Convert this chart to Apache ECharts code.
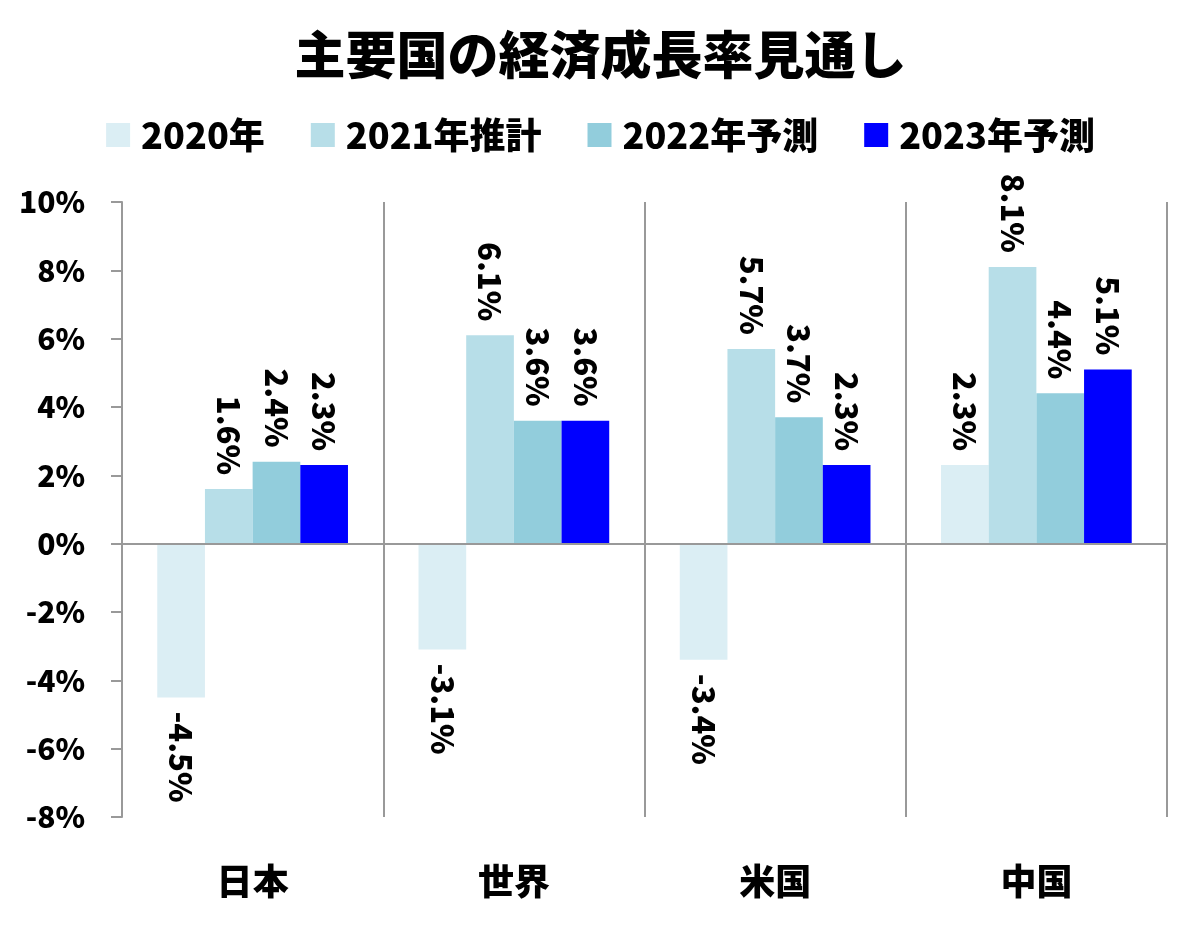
<!DOCTYPE html>
<html>
<head>
<meta charset="utf-8">
<script src="https://cdn.jsdelivr.net/npm/echarts@6/dist/echarts.min.js"></script>
<style>
html,body{margin:0;padding:0;background:#fff;}
#chart{width:1201px;height:928px;}
</style>
</head>
<body>
<div id="chart"></div>
<script>
const titleText = '主要国の経済成長率見通し';
const categories = ['日本', '世界', '米国', '中国'];
const seriesNames = ['2020年', '2021年推計', '2022年予測', '2023年予測'];
const values2020 = [-4.5, -3.1, -3.4, 2.3];
const values2021 = [1.6, 6.1, 5.7, 8.1];
const values2022 = [2.4, 3.6, 3.7, 4.4];
const values2023 = [2.3, 3.6, 2.3, 5.1];
const colors = ['#dbeef4', '#b7dee8', '#92cddc', '#0000ff'];

const FONT = '"Noto Sans CJK JP", "Noto Sans", sans-serif';
const GRAY = '#999999';
const WEIGHT = 900;

function makeData(arr) {
  return arr.map(v => {
    if (v < 0) {
      return { value: v, label: { position: 'bottom', align: 'left' } };
    }
    return { value: v };
  });
}

const allValues = [values2020, values2021, values2022, values2023];

const series = allValues.map((arr, i) => {
  const s = {
    name: seriesNames[i],
    type: 'bar',
    data: makeData(arr),
    barGap: '0%',
    barCategoryGap: '27%',
    itemStyle: { color: colors[i] },
    label: {
      show: true,
      position: 'top',
      rotate: -90,
      align: 'right',
      verticalAlign: 'middle',
      distance: 14,
      fontFamily: FONT,
      fontWeight: WEIGHT,
      fontSize: 31,
      color: '#000',
      formatter: p => p.value.toFixed(1) + '%'
    }
  };
  if (i === 0) {
    s.markLine = {
      silent: true,
      symbol: 'none',
      label: { show: false },
      lineStyle: { color: GRAY, type: 'solid', width: 2 },
      data: [{ yAxis: 0 }]
    };
  }
  return s;
});

const chart = echarts.init(document.getElementById('chart'));
chart.setOption({
  backgroundColor: '#ffffff',
  animation: false,
  title: {
    text: titleText,
    left: 'center',
    top: 24,
    textStyle: { fontFamily: FONT, fontWeight: WEIGHT, fontSize: 51, color: '#000' }
  },
  legend: {
    data: seriesNames,
    left: 'center',
    top: 112,
    itemWidth: 24,
    itemHeight: 24,
    itemGap: 46,
    icon: 'rect',
    textStyle: { fontFamily: FONT, fontWeight: WEIGHT, fontSize: 36, color: '#000', padding: [0, 0, 0, 6] }
  },
  grid: { left: 122, right: 34, top: 202, bottom: 111 },
  xAxis: {
    type: 'category',
    data: categories,
    axisLine: { show: false },
    axisTick: { show: false },
    splitLine: { show: true, lineStyle: { color: GRAY, width: 2 } },
    axisLabel: {
      margin: 46,
      fontFamily: FONT, fontWeight: WEIGHT, fontSize: 36, color: '#000'
    }
  },
  yAxis: {
    type: 'value',
    min: -8,
    max: 10,
    interval: 2,
    axisLine: { show: true, lineStyle: { color: GRAY, width: 2 } },
    axisTick: { show: true, length: 11, lineStyle: { color: GRAY, width: 2 } },
    splitLine: { show: false },
    axisLabel: {
      margin: 37,
      formatter: '{value}%',
      fontFamily: FONT, fontWeight: WEIGHT, fontSize: 30, color: '#000'
    }
  },
  series: series
});
</script>
</body>
</html>
